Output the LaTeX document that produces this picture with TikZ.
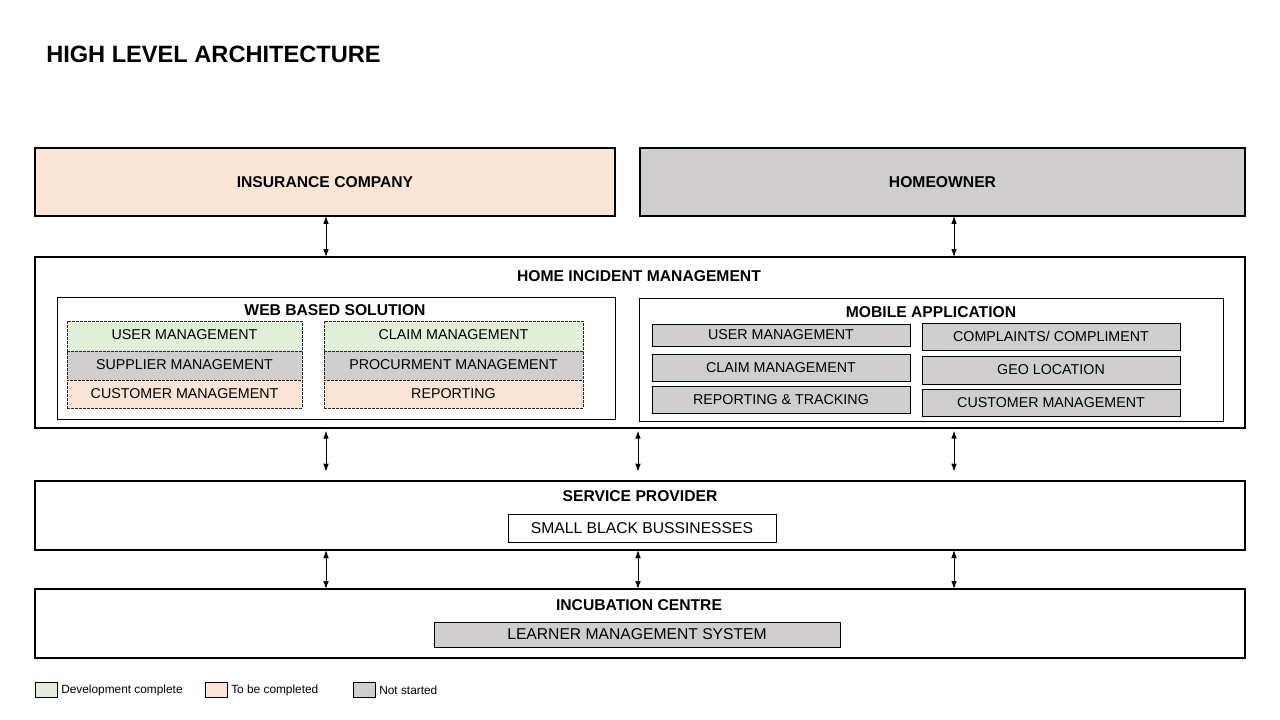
\documentclass[tikz,border=0pt]{standalone}
\usepackage{fontspec}
\setmainfont{Liberation Sans}
\usetikzlibrary{arrows.meta}
\definecolor{cgreen}{HTML}{E2F0D9}
\definecolor{cpeach}{HTML}{FBE5D6}
\definecolor{cgray}{HTML}{D0CECE}
\newcommand\myhead{\fontsize{11.75}{14}\selectfont\bfseries}
\newcommand\myitem{\fontsize{10.7}{12}\selectfont}
\newcommand\mybig{\fontsize{11.75}{14}\selectfont}
\newcommand\mylegend{\fontsize{8.9}{10}\selectfont}
\newcommand\mytitle{\fontsize{17.7}{20}\selectfont\bfseries}
% style, name, x1, y1, x2, y2, text
\newcommand\rbox[7]{\node[#1, minimum width={(#5-#3)*0.75pt}, minimum height={(#6-#4)*0.75pt}, anchor=north west, inner sep=0pt, outer sep=0pt] (#2) at (#3,#4) {#7};}
\begin{document}
\begin{tikzpicture}[x=0.75pt,y=-0.75pt,
  outer/.style={draw=black, line width=1.15pt},
  inner/.style={draw=black, line width=0.6pt},
  item/.style={draw=black, line width=0.6pt, fill=cgray, font=\myitem},
  ditem/.style={draw=black!85, line width=0.6pt, dash pattern=on 2pt off 1pt, font=\myitem},
  head/.style={font=\myhead, inner sep=0pt},
  legbox/.style={draw=black, line width=0.6pt},
  legtext/.style={font=\mylegend, anchor=west, inner sep=0pt},
  biarrow/.style={{Latex[length=6pt,width=4.2pt]}-{Latex[length=6pt,width=4.2pt]}, line width=0.65pt}]
\useasboundingbox (0,0) rectangle (1280,720);

% title
\node[font=\mytitle, anchor=west, inner sep=0pt] (title) at (46,54) {HIGH LEVEL ARCHITECTURE};

% top boxes
\rbox{outer, fill=cpeach, font=\myhead}{ins}{35}{148}{615}{216}{INSURANCE COMPANY}
\rbox{outer, fill=cgray, font=\myhead}{ho}{640}{148}{1245}{216}{HOMEOWNER}

% home incident management
\rbox{outer}{him}{35}{257}{1245}{428}{}
\node[head] (himt) at (639,276) {HOME INCIDENT MANAGEMENT};

% web based solution
\rbox{inner}{web}{57}{297}{615}{419}{}
\node[head] (webt) at (335,310) {WEB BASED SOLUTION};
\rbox{ditem, fill=cgreen}{w1}{67}{321}{302}{351}{\raisebox{1.5pt}{USER MANAGEMENT}}
\rbox{ditem, fill=cgray}{w2}{67}{351}{302}{380}{\raisebox{1pt}{SUPPLIER MANAGEMENT}}
\rbox{ditem, fill=cpeach}{w3}{67}{380}{302}{408}{\raisebox{0.5pt}{CUSTOMER MANAGEMENT}}
\rbox{ditem, fill=cgreen}{w4}{324}{321}{583}{351}{\raisebox{1.5pt}{CLAIM MANAGEMENT}}
\rbox{ditem, fill=cgray}{w5}{324}{351}{583}{380}{\raisebox{1pt}{PROCURMENT MANAGEMENT}}
\rbox{ditem, fill=cpeach}{w6}{324}{380}{583}{408}{\raisebox{0.5pt}{REPORTING}}

% mobile application
\rbox{inner}{mob}{639}{298}{1223}{421}{}
\node[head] (mobt) at (931,312) {MOBILE APPLICATION};
\rbox{item}{m1}{652}{324}{910}{346}{USER MANAGEMENT}
\rbox{item}{m2}{652}{354}{910}{381}{CLAIM MANAGEMENT}
\rbox{item}{m3}{652}{386}{910}{413}{REPORTING \& TRACKING}
\rbox{item}{m4}{922}{323}{1180}{350}{COMPLAINTS/ COMPLIMENT}
\rbox{item}{m5}{922}{356}{1180}{384}{GEO LOCATION}
\rbox{item}{m6}{922}{389}{1180}{416}{CUSTOMER MANAGEMENT}

% service provider
\rbox{outer}{sp}{35}{481}{1245}{550}{}
\node[head] (spt) at (640,496) {SERVICE PROVIDER};
\rbox{inner, fill=white, font=\mybig}{sbb}{508}{514}{776}{542}{SMALL BLACK BUSSINESSES}

% incubation centre
\rbox{outer}{ic}{35}{589}{1245}{658}{}
\node[head] (ict) at (639,605) {INCUBATION CENTRE};
\rbox{inner, fill=cgray, font=\mybig}{lms}{434}{622}{840}{647}{LEARNER MANAGEMENT SYSTEM}

% arrow columns
\coordinate (cL) at (326,0);
\coordinate (cM) at (638,0);
\coordinate (cR) at (954,0);
\draw[biarrow] (ins.south -| cL) -- (him.north -| cL);
\draw[biarrow] (ho.south -| cR) -- (him.north -| cR);
\draw[biarrow, shorten <=2pt, shorten >=7pt] (him.south -| cL) -- (sp.north -| cL);
\draw[biarrow, shorten <=2pt, shorten >=7pt] (him.south -| cM) -- (sp.north -| cM);
\draw[biarrow, shorten <=2pt, shorten >=7pt] (him.south -| cR) -- (sp.north -| cR);
\draw[biarrow] (sp.south -| cL) -- (ic.north -| cL);
\draw[biarrow] (sp.south -| cM) -- (ic.north -| cM);
\draw[biarrow] (sp.south -| cR) -- (ic.north -| cR);

% legend
\rbox{legbox, fill=cgreen}{lg1}{35}{682}{57}{697}{}
\node[legtext] (lt1) at (61,690) {Development complete};
\rbox{legbox, fill=cpeach}{lg2}{205}{682}{227}{697}{}
\node[legtext] (lt2) at (231,690) {To be completed};
\rbox{legbox, fill=cgray}{lg3}{353}{682}{375}{697}{}
\node[legtext] (lt3) at (379,690) {Not started};
\end{tikzpicture}
\end{document}
